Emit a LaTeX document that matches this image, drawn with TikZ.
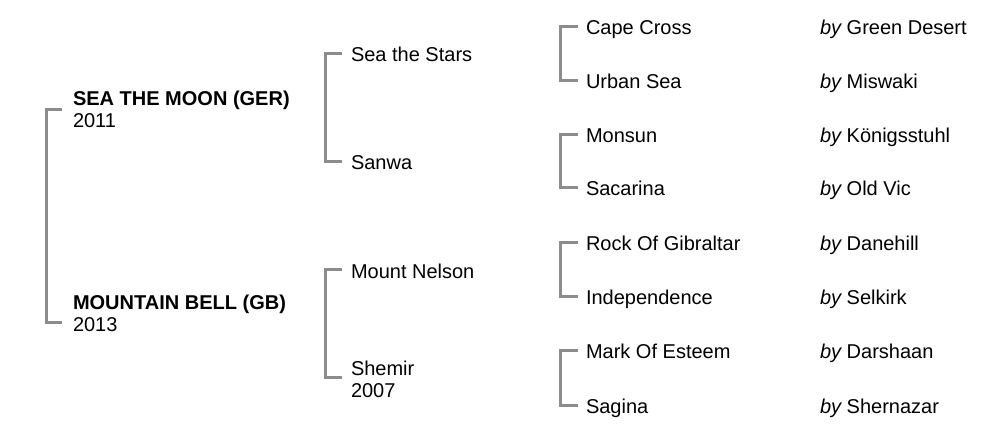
\documentclass[tikz,border=0pt]{standalone}
\usepackage{fontspec}
\setmainfont{Liberation Sans}
\begin{document}
\begin{tikzpicture}[x=1pt,y=-1pt,
  lbl/.style={anchor=base west,inner sep=0pt,outer sep=0pt,font=\fontsize{20}{22}\selectfont,text=black},
  top/.style={lbl,font=\fontsize{20}{22}\selectfont\bfseries},
  bracket/.style={draw={rgb,255:red,140;green,140;blue,140},line width=3pt,line cap=butt,line join=miter}]
\useasboundingbox (0,0) rectangle (1001,443);
% generation 1
\node[top] (stm) at (73,106) {SEA THE MOON (GER)};
\node[lbl] (y2011) at (73,128) {2011};
\node[top] (mb) at (73,310) {MOUNTAIN BELL (GB)};
\node[lbl] (y2013) at (73,332) {2013};
% generation 2
\node[lbl] (sts) at (351,62) {Sea the Stars};
\node[lbl] (sanwa) at (351,170) {Sanwa};
\node[lbl] (mn) at (351,279) {Mount Nelson};
\node[lbl] (shemir) at (351,375) {Shemir};
\node[lbl] (y2007) at (351,397) {2007};
% generation 3
\node[lbl] (cc) at (586,35) {Cape Cross};
\node[lbl] (us) at (586,89) {Urban Sea};
\node[lbl] (mo) at (586,143) {Monsun};
\node[lbl] (sa) at (586,196) {Sacarina};
\node[lbl] (rg) at (586,251) {Rock Of Gibraltar};
\node[lbl] (in) at (586,305) {Independence};
\node[lbl] (me) at (586,359) {Mark Of Esteem};
\node[lbl] (sg) at (586,413) {Sagina};
% sires
\node[lbl] (bcc) at (820,35) {\itshape by\upshape{} Green Desert};
\node[lbl] (bus) at (820,89) {\itshape by\upshape{} Miswaki};
\node[lbl] (bmo) at (820,143) {\itshape by\upshape{} Königsstuhl};
\node[lbl] (bsa) at (820,196) {\itshape by\upshape{} Old Vic};
\node[lbl] (brg) at (820,251) {\itshape by\upshape{} Danehill};
\node[lbl] (bin) at (820,305) {\itshape by\upshape{} Selkirk};
\node[lbl] (bme) at (820,359) {\itshape by\upshape{} Darshaan};
\node[lbl] (bsg) at (820,413) {\itshape by\upshape{} Shernazar};
% brackets
\draw[bracket] ([shift={(-11,4)}]stm.base west) -- ++(-16,0) |- ([shift={(-11,-9)}]y2013.base west);
\draw[bracket] ([shift={(-9,-8)}]sts.base west) -- ++(-17,0) |- ([shift={(-9,-8)}]sanwa.base west);
\draw[bracket] ([shift={(-9,-9)}]mn.base west) -- ++(-17,0) |- ([shift={(-9,-19)}]y2007.base west);
\draw[bracket] ([shift={(-8,-8)}]cc.base west) -- ++(-18,0) |- ([shift={(-8,-8)}]us.base west);
\draw[bracket] ([shift={(-8,-8)}]mo.base west) -- ++(-18,0) |- ([shift={(-8,-8)}]sa.base west);
\draw[bracket] ([shift={(-8,-8)}]rg.base west) -- ++(-18,0) |- ([shift={(-8,-8)}]in.base west);
\draw[bracket] ([shift={(-8,-8)}]me.base west) -- ++(-18,0) |- ([shift={(-8,-8)}]sg.base west);
\end{tikzpicture}
\end{document}
